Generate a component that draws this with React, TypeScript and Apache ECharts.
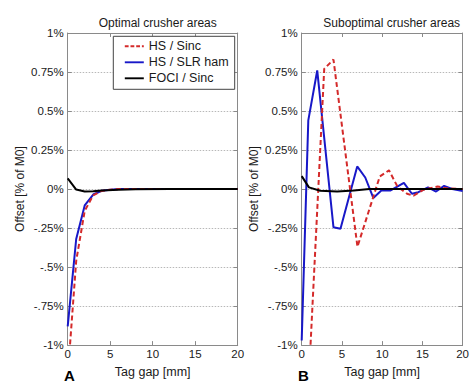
import React, { useEffect, useRef } from "react";
import * as echarts from "echarts";

// ---- data (values in % of M0, x in mm) ----
const yTickLabels = ["-1%", "-.75%", "-.5%", "-.25%", "0%", "0.25%", "0.5%", "0.75%", "1%"];
const seriesNames = ["HS / Sinc", "HS / SLR ham", "FOCI / Sinc"];

const optHsSincX = [0, 1, 2, 3, 4, 5, 6, 10, 20];
const optHsSincY = [-1.2, -0.46, -0.14, -0.04, -0.012, -0.004, 0, 0, 0];
const optHsSlrX = [0, 1, 2, 3, 4, 5, 6, 10, 20];
const optHsSlrY = [-0.88, -0.32, -0.105, -0.035, -0.011, -0.004, 0, 0, 0];
const optFociX = [0, 1, 2, 3, 4, 6, 8, 12, 20];
const optFociY = [0.068, -0.003, -0.016, -0.014, -0.01, -0.004, -0.001, 0, 0];

const subHsSincX = [1.0, 2.8, 3.95, 6.93, 9.7, 10.85, 11.9, 13.1, 13.9, 15.1, 16.9, 18, 20];
const subHsSincY = [-1.1, 0.77, 0.83, -0.37, 0.08, 0.12, 0.016, -0.03, -0.043, -0.005, 0.016, 0.005, 0];
const subHsSlrX = [0, 0.82, 1.93, 3.95, 4.82, 6.9, 7.9, 8.9, 9.9, 11.0, 12.7, 13.7, 14.5, 15.7, 16.7, 17.7, 18.7, 19.7, 20];
const subHsSlrY = [-0.97, 0.44, 0.76, -0.245, -0.255, 0.145, 0.074, -0.057, -0.01, -0.01, 0.04, -0.03, -0.02, 0.011, -0.016, 0.02, 0, -0.01, -0.012];
const subFociX = [0, 0.9, 2.3, 4.4, 6.5, 8.4, 20];
const subFociY = [0.083, 0.011, -0.011, -0.016, -0.01, 0, 0];

const panelTitles = ["Optimal crusher areas", "Suboptimal crusher areas"];
const panelLetters = ["A", "B"];
const xName = "Tag gap [mm]";
const yName = "Offset [% of M0]";

const zip = (xs: number[], ys: number[]) => xs.map((x, i) => [x, ys[i]]);

const FONT = "'Liberation Sans', Arial, Helvetica, sans-serif";
const AXIS_COLOR = "#8a8a8a";
const TEXT_COLOR = "#1a1a1a";
const colors = ["#d42a2a", "#1818c8", "#000000"];

const SOLID_ICON = "path://M0,0H20V2H0Z";
const DASH_ICON = "path://M0,0H4V2H0Z M6,0H10V2H6Z M12,0H16V2H12Z M18,0H20V2H18Z";

export default function App() {
  const ref = useRef<HTMLDivElement>(null);

  useEffect(() => {
    if (!ref.current) return;
    const chart = echarts.init(ref.current, null, { renderer: "svg" });

    const grids = [
      { left: 67.7, top: 33, width: 170, height: 319 },
      { left: 301.7, top: 33, width: 170, height: 319 },
    ];

    const xAxes: any[] = [];
    const yAxes: any[] = [];
    [0, 1].forEach((g) => {
      xAxes.push({
        type: "value",
        gridIndex: g,
        position: "bottom",
        min: 0,
        max: 20,
        interval: 5,
        name: xName,
        nameLocation: "middle",
        nameGap: 17,
        nameTextStyle: { fontFamily: FONT, fontSize: 12.5, color: TEXT_COLOR },
        axisLine: { show: true, onZero: false, lineStyle: { color: AXIS_COLOR, width: 1 } },
        axisTick: { show: true, inside: true, length: 4, lineStyle: { color: AXIS_COLOR } },
        axisLabel: { fontFamily: FONT, fontSize: 11.5, color: TEXT_COLOR, margin: 3 },
        splitLine: { show: false },
      });
      xAxes.push({
        type: "value",
        gridIndex: g,
        position: "top",
        min: 0,
        max: 20,
        interval: 5,
        axisLine: { show: true, onZero: false, lineStyle: { color: AXIS_COLOR, width: 1 } },
        axisTick: { show: true, inside: true, length: 4, lineStyle: { color: AXIS_COLOR } },
        axisLabel: { show: false },
        splitLine: { show: false },
      });
      yAxes.push({
        type: "value",
        gridIndex: g,
        position: "left",
        min: -1,
        max: 1,
        interval: 0.25,
        name: yName,
        nameLocation: "middle",
        nameGap: 42,
        nameRotate: 90,
        nameTextStyle: { fontFamily: FONT, fontSize: 12, color: TEXT_COLOR },
        axisLine: { show: true, onZero: false, lineStyle: { color: AXIS_COLOR, width: 1 } },
        axisTick: { show: true, inside: true, length: 4, lineStyle: { color: AXIS_COLOR } },
        axisLabel: {
          fontFamily: FONT,
          fontSize: 11.5,
          color: TEXT_COLOR,
          margin: 4,
          formatter: (v: number) => yTickLabels[Math.round((v + 1) / 0.25)] ?? "",
        },
        splitLine: { show: true, lineStyle: { color: "#b8b8b8", type: [1.5, 1.5], width: 1 } },
      });
      yAxes.push({
        type: "value",
        gridIndex: g,
        position: "right",
        min: -1,
        max: 1,
        interval: 0.25,
        axisLine: { show: true, onZero: false, lineStyle: { color: AXIS_COLOR, width: 1 } },
        axisTick: { show: true, inside: true, length: 4, lineStyle: { color: AXIS_COLOR } },
        axisLabel: { show: false },
        splitLine: { show: false },
      });
    });

    const mk = (name: string, data: number[][], idx: number, panel: number) => ({
      type: "line",
      name,
      xAxisIndex: panel * 2,
      yAxisIndex: panel * 2,
      data,
      symbol: "none",
      showSymbol: false,
      clip: true,
      z: idx === 0 ? 4 : idx === 1 ? 3 : 5,
      lineStyle: {
        color: colors[idx],
        width: 2,
        type: idx === 0 ? [5, 3] : "solid",
      },
      itemStyle: { color: colors[idx] },
    });

    const series = [
      mk(seriesNames[0], zip(optHsSincX, optHsSincY), 0, 0),
      mk(seriesNames[1], zip(optHsSlrX, optHsSlrY), 1, 0),
      mk(seriesNames[2], zip(optFociX, optFociY), 2, 0),
      mk(seriesNames[0], zip(subHsSincX, subHsSincY), 0, 1),
      mk(seriesNames[1], zip(subHsSlrX, subHsSlrY), 1, 1),
      mk(seriesNames[2], zip(subFociX, subFociY), 2, 1),
    ];

    chart.setOption({
      animation: false,
      backgroundColor: "#ffffff",
      grid: grids,
      xAxis: xAxes,
      yAxis: yAxes,
      title: [
        {
          text: panelTitles[0],
          left: 152.7,
          textAlign: "center",
          top: 12,
          textStyle: { fontFamily: FONT, fontSize: 12, fontWeight: "normal", color: TEXT_COLOR },
        },
        {
          text: panelTitles[1],
          left: 386.7,
          textAlign: "center",
          top: 12,
          textStyle: { fontFamily: FONT, fontSize: 12, fontWeight: "normal", color: TEXT_COLOR },
        },
        {
          text: panelLetters[0],
          left: 64,
          top: 368,
          padding: 0,
          textStyle: { fontFamily: FONT, fontSize: 15, fontWeight: 900, color: "#000" },
        },
        {
          text: panelLetters[1],
          left: 298,
          top: 368,
          padding: 0,
          textStyle: { fontFamily: FONT, fontSize: 15, fontWeight: 900, color: "#000" },
        },
      ],
      legend: {
        data: [
          { name: seriesNames[0], icon: DASH_ICON, itemStyle: { color: colors[0] } },
          { name: seriesNames[1], icon: SOLID_ICON, itemStyle: { color: colors[1] } },
          { name: seriesNames[2], icon: SOLID_ICON, itemStyle: { color: colors[2] } },
        ],
        orient: "vertical",
        left: 113.3,
        top: 36.3,
        itemWidth: 19,
        itemHeight: 2,
        itemGap: 2,
        padding: [3, 6, 4, 11.5],
        borderColor: "#444",
        borderWidth: 1,
        backgroundColor: "#fff",
        textStyle: { fontFamily: FONT, fontSize: 12.5, color: TEXT_COLOR, lineHeight: 14 },
        selectedMode: false,
      },
      series,
    });

    return () => chart.dispose();
  }, []);

  return (
    <div
      ref={ref}
      style={{ position: "absolute", left: 0, top: 0, width: 472, height: 383, background: "#fff" }}
    />
  );
}
